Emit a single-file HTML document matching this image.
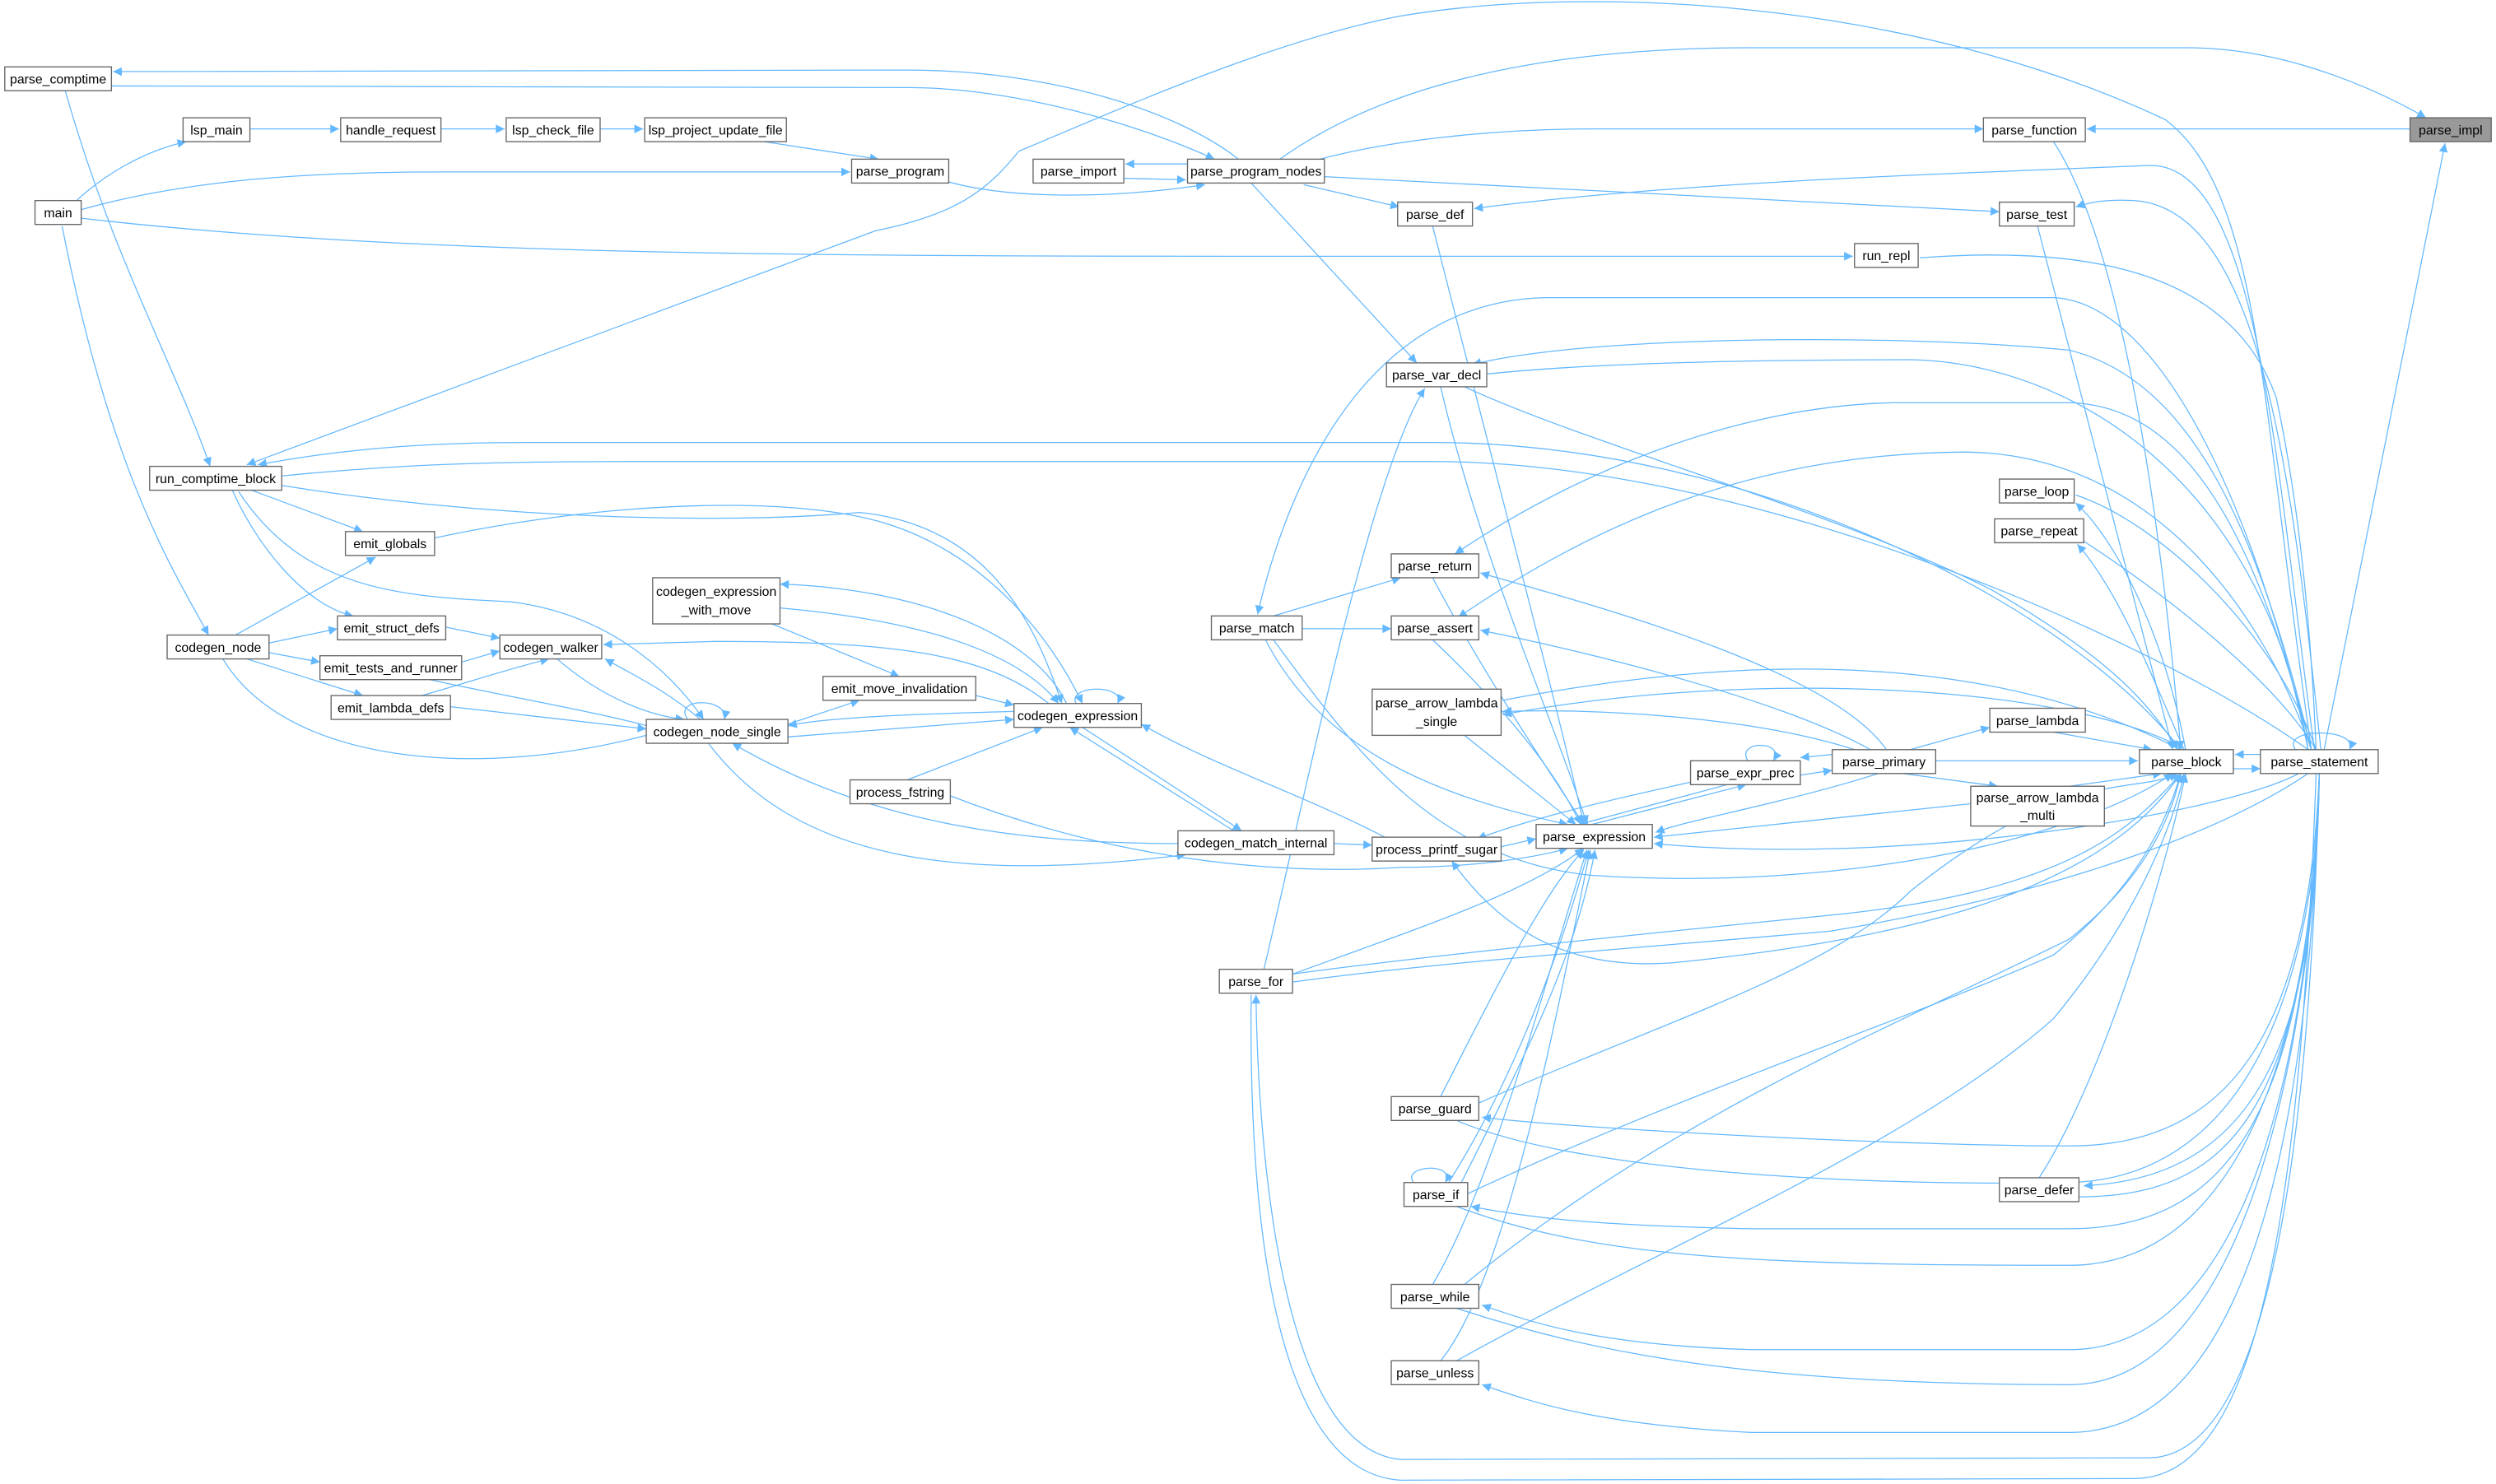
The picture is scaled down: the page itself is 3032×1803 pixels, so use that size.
<!DOCTYPE html>
<html><head><meta charset="utf-8"><style>
html,body{margin:0;padding:0;background:#fff;}
svg{display:block;}
text{font-family:"Liberation Sans",sans-serif;font-size:8.2px;fill:#000;}
.n{fill:#fff;stroke:#666;stroke-width:0.7;}
.e{fill:none;stroke:#63b8ff;stroke-width:0.65;}
</style></head><body>
<svg width="3032" height="1803" viewBox="0 0 1568 932.4" xmlns="http://www.w3.org/2000/svg">
<defs><marker id="a" viewBox="0 0 10 10" refX="10" refY="5" markerWidth="8" markerHeight="5.5" markerUnits="userSpaceOnUse" orient="auto"><path d="M0,0L10,5L0,10z" fill="#63b8ff"/></marker></defs>
<g class="e">
<path d="M1460,471 L1536,90" marker-end="url(#a)"/>
<path d="M1514,81 L1311,81" marker-end="url(#a)"/>
<path d="M804,100 C860,60 950,30 1100,30 L1374,30 C1440,30 1500,60 1524,74" marker-end="url(#a)"/>
<path d="M778,100 C740,70 660,44 570,44 L71,45" marker-end="url(#a)"/>
<path d="M70,54 L570,55 C640,55 720,80 763,100" marker-end="url(#a)"/>
<path d="M157,81 L213,81" marker-end="url(#a)"/>
<path d="M277,81 L317,81" marker-end="url(#a)"/>
<path d="M377,81 L404,81" marker-end="url(#a)"/>
<path d="M480,89 L552,100" marker-end="url(#a)"/>
<path d="M47,127 C65,110 90,95 117,89" marker-end="url(#a)"/>
<path d="M50,132 C120,112 200,108 280,108 L534,108" marker-end="url(#a)"/>
<path d="M595,114 C630,124 690,126 757,116" marker-end="url(#a)"/>
<path d="M746,103 L707,103" marker-end="url(#a)"/>
<path d="M706,112 L745,113" marker-end="url(#a)"/>
<path d="M50,137 C250,160 500,161 800,161 L1164,161" marker-end="url(#a)"/>
<path d="M39,142 C70,300 110,360 131,399" marker-end="url(#a)"/>
<path d="M41,57 C70,160 110,230 132,293" marker-end="url(#a)"/>
<path d="M819,116 L879,130" marker-end="url(#a)"/>
<path d="M1454,471 C1430,300 1420,100 1349,104 C1200,110 1050,115 926,131" marker-end="url(#a)"/>
<path d="M832,111 L1256,133" marker-end="url(#a)"/>
<path d="M1458,471 C1440,300 1420,130 1340,126 C1320,125 1310,128 1304,130" marker-end="url(#a)"/>
<path d="M822,102 C870,88 940,81 1000,81 L1246,81" marker-end="url(#a)"/>
<path d="M1290,89 C1330,150 1355,300 1370,471" marker-end="url(#a)"/>
<path d="M1280,142 L1365,471" marker-end="url(#a)"/>
<path d="M1206,162 C1300,155 1400,165 1430,250 C1445,320 1452,400 1455,471"/>
<path d="M1452,471 C1420,250 1420,120 1360,75 C1200,0 1000,-10 880,10 C800,25 700,70 640,95 C620,120 600,135 550,145 L155,292" marker-end="url(#a)"/>
<path d="M786,115 L890,228" marker-end="url(#a)"/>
<path d="M1452,471 C1420,340 1380,240 1300,220 C1200,210 1000,210 925,229" marker-end="url(#a)"/>
<path d="M934,235 C1000,228 1100,226 1200,226 C1300,228 1420,300 1450,471"/>
<path d="M920,243 C1000,280 1150,320 1250,370 C1320,410 1350,440 1368,471" marker-end="url(#a)"/>
<path d="M794,609 C820,500 860,300 895,244" marker-end="url(#a)"/>
<path d="M900,142 C940,300 980,450 995,518" marker-end="url(#a)"/>
<path d="M1370,471 C1300,380 1100,278 900,278 L330,278 C250,278 200,285 162,292" marker-end="url(#a)"/>
<path d="M177,299 C250,292 300,290 400,290 L900,290 C1100,290 1350,400 1450,471"/>
<path d="M177,305 C300,325 450,330 540,322 C620,330 650,390 667,442" marker-end="url(#a)"/>
<path d="M158,308 L228,334" marker-end="url(#a)"/>
<path d="M146,308 C160,340 190,380 222,387" marker-end="url(#a)"/>
<path d="M150,309 C190,370 250,375 320,378 C380,385 420,420 442,452" marker-end="url(#a)"/>
<path d="M148,399 L236,350" marker-end="url(#a)"/>
<path d="M169,404 L212,395" marker-end="url(#a)"/>
<path d="M169,410 L201,416" marker-end="url(#a)"/>
<path d="M155,414 L228,437" marker-end="url(#a)"/>
<path d="M406,462 C300,490 180,480 140,414"/>
<path d="M280,394 L314,401" marker-end="url(#a)"/>
<path d="M290,416 L314,409" marker-end="url(#a)"/>
<path d="M265,437 C290,430 320,420 345,414" marker-end="url(#a)"/>
<path d="M270,427 C330,440 390,450 420,460" marker-end="url(#a)"/>
<path d="M283,444 L406,458" marker-end="url(#a)"/>
<path d="M350,414 C380,440 410,450 430,452" marker-end="url(#a)"/>
<path d="M440,452 C420,435 400,425 380,414" marker-end="url(#a)"/>
<path d="M432,452 C422,438 458,438 455,452" marker-end="url(#a)"/>
<path d="M495,463 L637,452" marker-end="url(#a)"/>
<path d="M637,447 C600,448 520,450 495,456" marker-end="url(#a)"/>
<path d="M660,443 C620,410 560,403 450,403 L379,405" marker-end="url(#a)"/>
<path d="M273,338 C380,315 500,310 560,330 C620,350 660,400 680,442" marker-end="url(#a)"/>
<path d="M670,442 C650,400 580,370 490,367" marker-end="url(#a)"/>
<path d="M490,382 C580,390 640,410 665,442" marker-end="url(#a)"/>
<path d="M485,392 L565,425" marker-end="url(#a)"/>
<path d="M613,437 L637,443" marker-end="url(#a)"/>
<path d="M495,455 L540,440" marker-end="url(#a)"/>
<path d="M676,442 C670,430 708,430 702,442" marker-end="url(#a)"/>
<path d="M570,490 L655,457" marker-end="url(#a)"/>
<path d="M680,457 L780,522" marker-end="url(#a)"/>
<path d="M775,522 L672,457" marker-end="url(#a)"/>
<path d="M740,530 C650,530 550,520 460,467" marker-end="url(#a)"/>
<path d="M445,467 C500,540 600,555 745,537" marker-end="url(#a)"/>
<path d="M838,530 L862,531" marker-end="url(#a)"/>
<path d="M870,526 C820,500 760,480 717,455" marker-end="url(#a)"/>
<path d="M597,500 C700,540 800,550 880,545 C920,545 960,540 985,533" marker-end="url(#a)"/>
<path d="M1064,491 C1000,505 960,515 928,527" marker-end="url(#a)"/>
<path d="M943,532 L965,527" marker-end="url(#a)"/>
<path d="M1085,493 L992,518" marker-end="url(#a)"/>
<path d="M1000,518 L1097,493" marker-end="url(#a)"/>
<path d="M1098,478 C1090,465 1122,465 1114,478" marker-end="url(#a)"/>
<path d="M1151,474 L1131,476" marker-end="url(#a)"/>
<path d="M1131,487 L1151,484" marker-end="url(#a)"/>
<path d="M1180,486 C1120,505 1060,515 1040,523" marker-end="url(#a)"/>
<path d="M1216,478 L1343,478" marker-end="url(#a)"/>
<path d="M1200,471 L1250,457" marker-end="url(#a)"/>
<path d="M1290,460 L1352,471" marker-end="url(#a)"/>
<path d="M1195,486 L1255,494" marker-end="url(#a)"/>
<path d="M1300,494 L1358,486" marker-end="url(#a)"/>
<path d="M1238,505 L1039,526" marker-end="url(#a)"/>
<path d="M1185,471 C1150,420 1000,380 930,360" marker-end="url(#a)"/>
<path d="M1175,471 C1120,440 1000,410 930,396" marker-end="url(#a)"/>
<path d="M1165,471 C1100,450 1000,445 944,447" marker-end="url(#a)"/>
<path d="M900,363 C930,420 970,480 995,518" marker-end="url(#a)"/>
<path d="M900,402 C940,440 975,480 993,518" marker-end="url(#a)"/>
<path d="M920,462 L990,518" marker-end="url(#a)"/>
<path d="M905,243 C930,350 975,450 997,518" marker-end="url(#a)"/>
<path d="M795,402 C830,470 900,500 985,518" marker-end="url(#a)"/>
<path d="M800,387 L880,363" marker-end="url(#a)"/>
<path d="M818,395 L874,395" marker-end="url(#a)"/>
<path d="M1450,471 C1420,330 1360,190 1290,187 L970,187 C860,190 810,300 790,386" marker-end="url(#a)"/>
<path d="M1452,471 C1420,350 1380,255 1300,253 L1190,253 C1100,255 1000,290 914,348" marker-end="url(#a)"/>
<path d="M1452,471 C1420,380 1350,285 1234,284 C1100,285 1000,330 916,388" marker-end="url(#a)"/>
<path d="M1373,471 C1300,430 1100,420 944,449" marker-end="url(#a)"/>
<path d="M944,440 C1100,410 1250,410 1370,471"/>
<path d="M1444,486 C1400,510 1200,545 1039,530" marker-end="url(#a)"/>
<path d="M800,402 C850,470 900,540 1000,550 C1150,560 1300,530 1365,486" marker-end="url(#a)"/>
<path d="M812,612 C900,580 960,560 995,533" marker-end="url(#a)"/>
<path d="M812,612 C900,600 1050,585 1150,575 C1300,560 1340,520 1370,486" marker-end="url(#a)"/>
<path d="M812,617 C900,605 1000,598 1150,585 C1300,560 1400,520 1450,486"/>
<path d="M1370,486 C1320,560 1200,590 1050,605 C980,610 940,580 912,541" marker-end="url(#a)"/>
<path d="M1457,486 C1450,750 1420,915 1350,916 L880,917 C800,910 790,700 789,625" marker-end="url(#a)"/>
<path d="M1455,486 C1445,760 1420,930 1340,929 L880,930 C790,925 785,720 786,625"/>
<path d="M905,689 C940,620 970,560 995,534" marker-end="url(#a)"/>
<path d="M929,693 C1050,640 1150,610 1200,560 C1300,480 1340,500 1368,486" marker-end="url(#a)"/>
<path d="M1457,486 C1450,650 1400,720 1300,720 C1200,720 1000,710 931,702" marker-end="url(#a)"/>
<path d="M915,704 C1000,740 1200,745 1300,743 C1420,740 1455,600 1457,486"/>
<path d="M888,743 C880,732 915,730 908,743" marker-end="url(#a)"/>
<path d="M910,743 C950,680 980,600 998,534" marker-end="url(#a)"/>
<path d="M918,743 C960,660 990,600 1002,534" marker-end="url(#a)"/>
<path d="M922,750 C1050,690 1200,640 1290,600 C1340,560 1360,520 1370,486" marker-end="url(#a)"/>
<path d="M1457,486 C1450,700 1400,772 1300,772 L1100,772 C1000,770 960,765 924,758" marker-end="url(#a)"/>
<path d="M915,758 C1000,790 1100,795 1300,795 C1420,795 1455,620 1457,486"/>
<path d="M900,807 C940,740 975,600 997,534" marker-end="url(#a)"/>
<path d="M920,807 C1050,700 1200,640 1300,590 C1350,550 1365,510 1370,486" marker-end="url(#a)"/>
<path d="M1457,486 C1450,700 1400,848 1300,848 L1100,848 C1000,845 960,830 931,820" marker-end="url(#a)"/>
<path d="M915,822 C1000,850 1100,870 1300,870 C1420,870 1455,620 1457,486"/>
<path d="M905,855 C950,800 985,600 999,534" marker-end="url(#a)"/>
<path d="M915,855 C1050,780 1200,720 1290,640 C1340,580 1365,520 1372,486" marker-end="url(#a)"/>
<path d="M1457,486 C1450,750 1400,900 1300,900 L1100,900 C1000,895 960,880 931,870" marker-end="url(#a)"/>
<path d="M1281,740 C1320,680 1360,550 1373,486" marker-end="url(#a)"/>
<path d="M1457,486 C1455,650 1420,740 1309,745" marker-end="url(#a)"/>
<path d="M1306,752 C1400,752 1450,700 1457,486"/>
<path d="M1373,471 C1360,400 1330,340 1304,316" marker-end="url(#a)"/>
<path d="M1304,311 C1360,330 1430,400 1455,471"/>
<path d="M1372,471 C1350,420 1330,370 1305,342" marker-end="url(#a)"/>
<path d="M1309,340 C1370,380 1430,430 1455,471"/>
<path d="M1420,474 L1404,474" marker-end="url(#a)"/>
<path d="M1403,483 L1420,483" marker-end="url(#a)"/>
<path d="M1442,471 C1432,457 1482,457 1476,471" marker-end="url(#a)"/>
</g>
<g>
<rect class="n" x="1514" y="74" width="51" height="15" style="fill:#999"/><text x="1539.5" y="84.5" text-anchor="middle">parse_impl</text>
<rect class="n" x="3" y="42" width="67" height="15"/><text x="36.5" y="52.5" text-anchor="middle">parse_comptime</text>
<rect class="n" x="115" y="74" width="42" height="15"/><text x="136" y="84.5" text-anchor="middle">lsp_main</text>
<rect class="n" x="214" y="74" width="63" height="15"/><text x="245.5" y="84.5" text-anchor="middle">handle_request</text>
<rect class="n" x="318" y="74" width="59" height="15"/><text x="347.5" y="84.5" text-anchor="middle">lsp_check_file</text>
<rect class="n" x="405" y="74" width="89" height="15"/><text x="449.5" y="84.5" text-anchor="middle">lsp_project_update_file</text>
<rect class="n" x="22" y="126" width="29" height="15"/><text x="36.5" y="136.5" text-anchor="middle">main</text>
<rect class="n" x="535" y="100" width="61" height="15"/><text x="565.5" y="110.5" text-anchor="middle">parse_program</text>
<rect class="n" x="649" y="100" width="57" height="15"/><text x="677.5" y="110.5" text-anchor="middle">parse_import</text>
<rect class="n" x="746" y="100" width="86" height="15"/><text x="789" y="110.5" text-anchor="middle">parse_program_nodes</text>
<rect class="n" x="1246" y="74" width="64" height="15"/><text x="1278" y="84.5" text-anchor="middle">parse_function</text>
<rect class="n" x="878" y="127" width="47" height="15"/><text x="901.5" y="137.5" text-anchor="middle">parse_def</text>
<rect class="n" x="1256" y="127" width="47" height="15"/><text x="1279.5" y="137.5" text-anchor="middle">parse_test</text>
<rect class="n" x="1165" y="153" width="40" height="15"/><text x="1185" y="163.5" text-anchor="middle">run_repl</text>
<rect class="n" x="871" y="228" width="63" height="15"/><text x="902.5" y="238.5" text-anchor="middle">parse_var_decl</text>
<rect class="n" x="94" y="293" width="83" height="15"/><text x="135.5" y="303.5" text-anchor="middle">run_comptime_block</text>
<rect class="n" x="1256" y="301" width="47" height="15"/><text x="1279.5" y="311.5" text-anchor="middle">parse_loop</text>
<rect class="n" x="1253" y="326" width="56" height="15"/><text x="1281" y="336.5" text-anchor="middle">parse_repeat</text>
<rect class="n" x="217" y="334" width="56" height="15"/><text x="245" y="344.5" text-anchor="middle">emit_globals</text>
<rect class="n" x="874" y="348" width="55" height="15"/><text x="901.5" y="358.5" text-anchor="middle">parse_return</text>
<rect class="n" x="410" y="363" width="80" height="29"/><text x="450" y="374.5" text-anchor="middle">codegen_expression</text><text x="450" y="386" text-anchor="middle">_with_move</text>
<rect class="n" x="874" y="387" width="55" height="15"/><text x="901.5" y="397.5" text-anchor="middle">parse_assert</text>
<rect class="n" x="761" y="387" width="57" height="15"/><text x="789.5" y="397.5" text-anchor="middle">parse_match</text>
<rect class="n" x="212" y="387" width="68" height="15"/><text x="246" y="397.5" text-anchor="middle">emit_struct_defs</text>
<rect class="n" x="105" y="399" width="64" height="15"/><text x="137" y="409.5" text-anchor="middle">codegen_node</text>
<rect class="n" x="314" y="399" width="64" height="15"/><text x="346" y="409.5" text-anchor="middle">codegen_walker</text>
<rect class="n" x="201" y="412" width="89" height="15"/><text x="245.5" y="422.5" text-anchor="middle">emit_tests_and_runner</text>
<rect class="n" x="862" y="433" width="81" height="29"/><text x="902.5" y="444.5" text-anchor="middle">parse_arrow_lambda</text><text x="902.5" y="456" text-anchor="middle">_single</text>
<rect class="n" x="517" y="425" width="96" height="15"/><text x="565" y="435.5" text-anchor="middle">emit_move_invalidation</text>
<rect class="n" x="208" y="437" width="75" height="15"/><text x="245.5" y="447.5" text-anchor="middle">emit_lambda_defs</text>
<rect class="n" x="637" y="442" width="80" height="15"/><text x="677" y="452.5" text-anchor="middle">codegen_expression</text>
<rect class="n" x="406" y="452" width="89" height="15"/><text x="450.5" y="462.5" text-anchor="middle">codegen_node_single</text>
<rect class="n" x="1250" y="445" width="60" height="15"/><text x="1280" y="455.5" text-anchor="middle">parse_lambda</text>
<rect class="n" x="1344" y="471" width="59" height="15"/><text x="1373.5" y="481.5" text-anchor="middle">parse_block</text>
<rect class="n" x="1420" y="471" width="74" height="15"/><text x="1457" y="481.5" text-anchor="middle">parse_statement</text>
<rect class="n" x="1062" y="478" width="69" height="15"/><text x="1096.5" y="488.5" text-anchor="middle">parse_expr_prec</text>
<rect class="n" x="1151" y="471" width="65" height="15"/><text x="1183.5" y="481.5" text-anchor="middle">parse_primary</text>
<rect class="n" x="534" y="490" width="63" height="15"/><text x="565.5" y="500.5" text-anchor="middle">process_fstring</text>
<rect class="n" x="1238" y="494" width="84" height="25"/><text x="1280" y="504" text-anchor="middle">parse_arrow_lambda</text><text x="1280" y="515" text-anchor="middle">_multi</text>
<rect class="n" x="965" y="518" width="73" height="15"/><text x="1001.5" y="528.5" text-anchor="middle">parse_expression</text>
<rect class="n" x="740" y="522" width="98" height="15"/><text x="789" y="532.5" text-anchor="middle">codegen_match_internal</text>
<rect class="n" x="862" y="526" width="81" height="15"/><text x="902.5" y="536.5" text-anchor="middle">process_printf_sugar</text>
<rect class="n" x="766" y="609" width="46" height="15"/><text x="789" y="619.5" text-anchor="middle">parse_for</text>
<rect class="n" x="874" y="689" width="55" height="15"/><text x="901.5" y="699.5" text-anchor="middle">parse_guard</text>
<rect class="n" x="882" y="743" width="40" height="15"/><text x="902" y="753.5" text-anchor="middle">parse_if</text>
<rect class="n" x="1256" y="740" width="50" height="15"/><text x="1281" y="750.5" text-anchor="middle">parse_defer</text>
<rect class="n" x="874" y="807" width="55" height="15"/><text x="901.5" y="817.5" text-anchor="middle">parse_while</text>
<rect class="n" x="874" y="855" width="55" height="15"/><text x="901.5" y="865.5" text-anchor="middle">parse_unless</text>
</g>
</svg>
</body></html>
